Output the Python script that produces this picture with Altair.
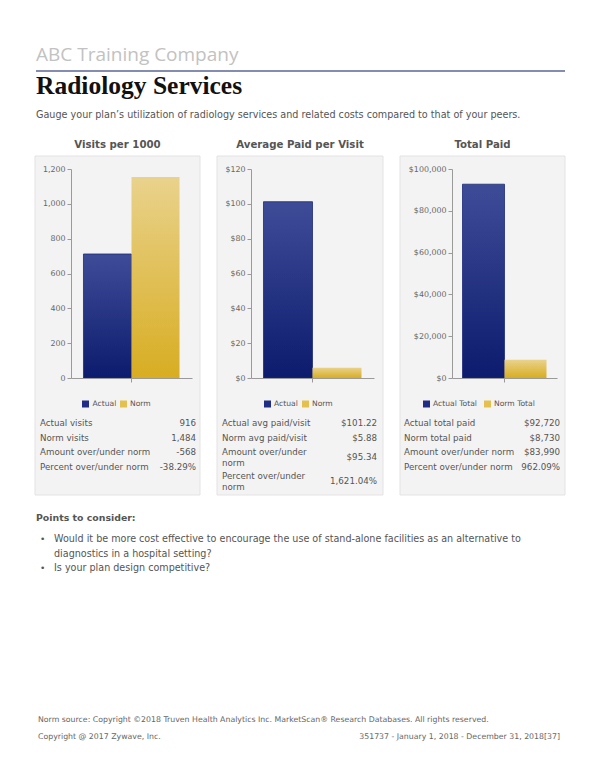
import altair as alt
import pandas as pd

FONT = "DejaVu Sans"
GRAY = "#555555"

# ---------------- data ----------------
categories = ["Actual", "Norm"]
visits_values = [712, 1154]
avg_paid_values = [101.22, 5.88]
total_paid_values = [92720, 8730]

panel_titles = ["Visits per 1000", "Average Paid per Visit", "Total Paid"]
legend_labels = [["Actual", "Norm"], ["Actual", "Norm"], ["Actual Total", "Norm Total"]]

visits_ticks = [0, 200, 400, 600, 800, 1000, 1200]
avg_ticks = [0, 20, 40, 60, 80, 100, 120]
total_ticks = [0, 20000, 40000, 60000, 80000, 100000]

visits_rows = ["Actual visits", "Norm visits", "Amount over/under norm", "Percent over/under norm"]
visits_row_values = ["916", "1,484", "-568", "-38.29%"]
avg_rows = ["Actual avg paid/visit", "Norm avg paid/visit", "Amount over/under\nnorm", "Percent over/under\nnorm"]
avg_row_values = ["$101.22", "$5.88", "$95.34", "1,621.04%"]
total_rows = ["Actual total paid", "Norm total paid", "Amount over/under norm", "Percent over/under norm"]
total_row_values = ["$92,720", "$8,730", "$83,990", "962.09%"]

company = "ABC Training Company"
page_title = "Radiology Services"
subtitle = "Gauge your plan\u2019s utilization of radiology services and related costs compared to that of your peers."
points_title = "Points to consider:"
bullet_lines = [
    ["Would it be more cost effective to encourage the use of stand-alone facilities as an alternative to",
     "diagnostics in a hospital setting?"],
    ["Is your plan design competitive?"],
]
footer_left = ["Norm source: Copyright \u00a92018 Truven Health Analytics Inc. MarketScan\u00ae Research Databases. All rights reserved.",
               "Copyright @ 2017 Zywave, Inc."]
footer_right = "351737 - January 1, 2018 - December 31, 2018[37]"

# ---------------- helpers ----------------
one = pd.DataFrame({"k": [0]})


def txt(s, x, y, size=8.7, color=GRAY, align="left", baseline="middle", weight="normal", font=FONT, lh=10.5):
    return alt.Chart(pd.DataFrame({"t": [s]})).mark_text(
        align=align, baseline=baseline, fontSize=size, color=color, fontWeight=weight,
        font=font, lineBreak="\n", lineHeight=lh
    ).encode(text="t:N", x=alt.value(x), y=alt.value(y))


def rect(x0, x1, y0, y1, fill, stroke=None):
    kw = dict(fill=fill)
    if stroke:
        kw.update(stroke=stroke, strokeWidth=1)
    return alt.Chart(one).mark_rect(**kw).encode(
        x=alt.value(x0), x2=alt.value(x1), y=alt.value(y0), y2=alt.value(y1))


grad_actual = alt.Gradient(gradient="linear", x1=0, x2=0, y1=0, y2=1, stops=[
    alt.GradientStop(color="#3e4c98", offset=0), alt.GradientStop(color="#0d1b6e", offset=1)])
grad_norm = alt.Gradient(gradient="linear", x1=0, x2=0, y1=0, y2=1, stops=[
    alt.GradientStop(color="#e9d28c", offset=0), alt.GradientStop(color="#d8ad22", offset=1)])

PANEL_H = 339
Y0, Y1 = 222, 13


def panel(values, ticks, fmt, width, box, xrange, pad, axis_x, legend, legend_pos,
          rows, row_vals, row_y, row_val_y, lab_x, val_x):
    df = pd.DataFrame({"cat": categories, "val": values})
    xs = alt.Scale(domain=categories, range=xrange, paddingInner=0, paddingOuter=pad)
    ys = alt.Scale(domain=[0, ticks[-1]], range=[Y0, Y1], nice=False, zero=True)
    xenc = alt.X("cat:N", scale=xs, axis=alt.Axis(
        title=None, labels=False, values=["Norm"], bandPosition=0, offset=Y0 - PANEL_H,
        domainColor="#9a9a9a", tickColor="#9a9a9a", tickSize=4, grid=False, zindex=1))
    yenc = alt.Y("val:Q", scale=ys, axis=alt.Axis(
        title=None, values=ticks, format=fmt, offset=-axis_x, grid=False, zindex=1,
        domainColor="#9a9a9a", tickColor="#9a9a9a", tickSize=4,
        labelColor="#666666", labelFontSize=7.9, labelFont=FONT, labelPadding=2))
    base = alt.Chart(df).encode(x=xenc, y=yenc)
    bar_a = base.transform_filter(alt.datum.cat == "Actual").mark_bar(
        fill=grad_actual, stroke="#1c2a78", strokeWidth=0.8)
    bar_n = base.transform_filter(alt.datum.cat == "Norm").mark_bar(fill=grad_norm)

    layers = [rect(box[0], box[1], 0, PANEL_H, "#f3f3f3", "#e3e3e3"), bar_a, bar_n]
    # legend
    ly = 248
    (s1, t1, s2, t2) = legend_pos
    layers.append(rect(s1 - 3.5, s1 + 3.5, ly - 3.5, ly + 3.5, "#1f2d86"))
    layers.append(txt(legend[0], t1, ly, size=7.6))
    layers.append(rect(s2 - 3.5, s2 + 3.5, ly - 3.5, ly + 3.5, "#e4c04c"))
    layers.append(txt(legend[1], t2, ly, size=7.6))
    # table
    for lab, v, yl, yv in zip(rows, row_vals, row_y, row_val_y):
        layers.append(txt(lab, lab_x, yl))
        layers.append(txt(v, val_x, yv, align="right"))
    return alt.layer(*layers).properties(width=width, height=PANEL_H)


std_y = [267, 281.5, 296, 310.5]
p1 = panel(visits_values, visits_ticks, ",.0f", 209, (27, 192), [63, 184], 0.26, 63,
           legend_labels[0], (77.5, 84.5, 115.5, 122),
           visits_rows, visits_row_values, std_y, std_y, 32, 188)
p2 = panel(avg_paid_values, avg_ticks, "$,.0f", 183, (0, 166), [34, 157], 0.255, 34,
           legend_labels[1], (50.5, 57, 88.5, 95),
           avg_rows, avg_row_values, [266.5, 281.5, 296, 320], [266.5, 281.5, 300.5, 325], 5, 160)
p3 = panel(total_paid_values, total_ticks, "$,.0f", 170, (0, 165), [52, 157], 0.25, 52,
           legend_labels[2], (26.5, 33, 87.5, 94),
           total_rows, total_row_values, std_y, std_y, 4, 160)

# ---------------- header ----------------
header_layers = [
    txt(company, 28, 53, size=19, color="#c2c2c2", baseline="alphabetic", font="Open Sans"),
    alt.Chart(one).mark_rule(color="#5c6699", strokeWidth=1.5).encode(
        x=alt.value(28), x2=alt.value(557), y=alt.value(63)),
    txt(page_title, 28, 86, size=25.5, color="#111111", baseline="alphabetic",
        weight="bold", font="Liberation Serif"),
    txt(subtitle, 28, 107, size=9.65),
]
for t, cx in zip(panel_titles, [109.5, 292, 474.5]):
    header_layers.append(txt(t, cx, 137, size=10.2, weight="bold", align="center"))
header = alt.layer(*header_layers).properties(width=584, height=147)

# ---------------- bottom ----------------
bottom_layers = [txt(points_title, 28, 22, size=9.4, weight="bold")]
by = 43
for lines in bullet_lines:
    bottom_layers.append(txt("\u2022", 32, by, size=9))
    for ln in lines:
        bottom_layers.append(txt(ln, 46, by, size=9.6))
        by += 14.5
bottom_layers.append(txt(footer_left[0], 30, 224, size=7.8, color="#666666"))
bottom_layers.append(txt(footer_left[1], 30, 241, size=7.8, color="#666666"))
bottom_layers.append(txt(footer_right, 552, 241, size=7.8, color="#666666", align="right"))
bottom = alt.layer(*bottom_layers).properties(width=584, height=274)

chart = alt.vconcat(
    header,
    alt.hconcat(p1, p2, p3, spacing=0, bounds="flush"),
    bottom,
    spacing=0,
).properties(padding=0).configure_view(stroke=None).configure_axis(grid=False)

chart.save("out.html", embed_options={"renderer": "svg", "actions": False})
